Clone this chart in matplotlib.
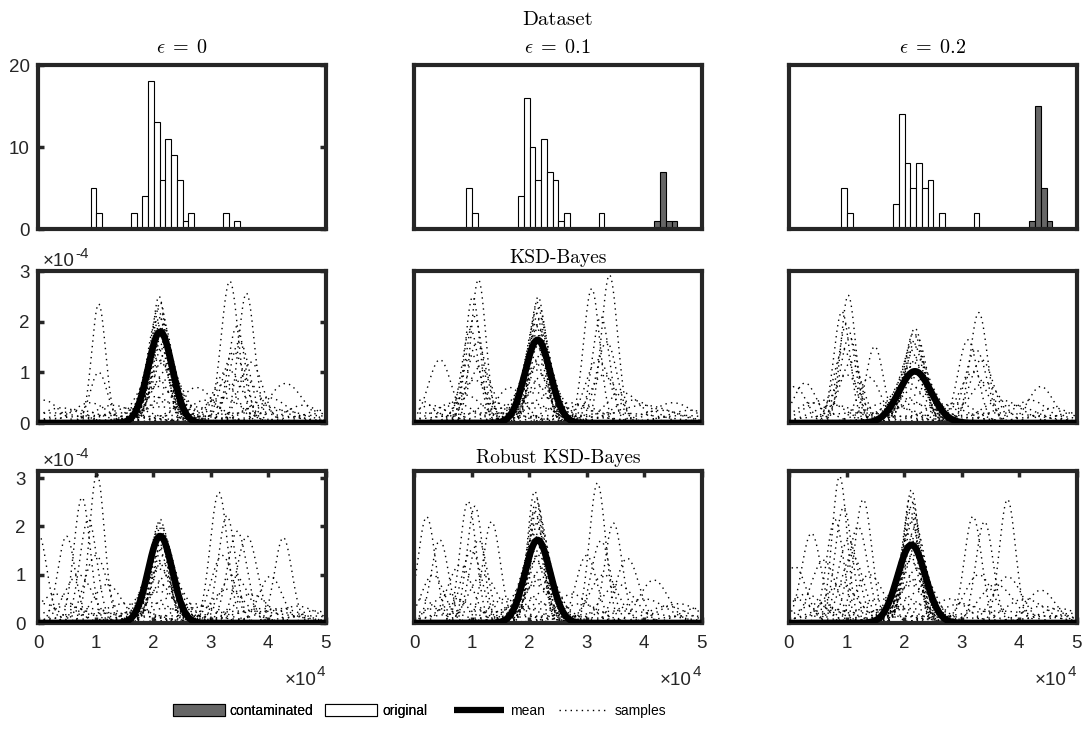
import numpy as np
import matplotlib
matplotlib.use("Agg")
import matplotlib.pyplot as plt
from matplotlib.patches import Patch
from matplotlib.lines import Line2D

plt.rcParams['font.family'] = ['Liberation Sans', 'DejaVu Sans']
plt.rcParams['mathtext.fontset'] = 'cm'

# ---- data (x in units of 1e4, densities in units of 1e-4) ----
eps_labels = [r'$\epsilon \;=\; 0$', r'$\epsilon \;=\; 0.1$', r'$\epsilon \;=\; 0.2$']
bin_width = 0.1

# histogram bins of the dataset: left edges and counts
orig_eps0_left = [0.91, 1.01, 1.61, 1.81, 1.91, 2.01, 2.11, 2.21, 2.31, 2.41, 2.51, 2.61, 3.21, 3.41]
orig_eps0_count = [5, 2, 2, 4, 18, 13, 6, 11, 9, 6, 1, 2, 2, 1]
orig_eps1_left = [0.91, 1.01, 1.81, 1.91, 2.01, 2.11, 2.21, 2.31, 2.41, 2.51, 2.61, 3.21]
orig_eps1_count = [5, 2, 4, 16, 10, 6, 11, 7, 6, 1, 2, 2]
orig_eps2_left = [0.91, 1.01, 1.81, 1.91, 2.01, 2.11, 2.21, 2.31, 2.41, 2.61, 3.21]
orig_eps2_count = [5, 2, 3, 14, 8, 5, 8, 5, 6, 2, 2]
cont_eps0_left = []
cont_eps0_count = []
cont_eps1_left = [4.18, 4.28, 4.38, 4.48]
cont_eps1_count = [1, 7, 1, 1]
cont_eps2_left = [4.18, 4.28, 4.38, 4.48]
cont_eps2_count = [1, 15, 5, 1]

# posterior density samples: (location, peak height, spread)
# "core" = samples around the main mode, "side" = other modes, "low" = flat ones
ksd_eps0_core = [
    (2.10, 2.50, 0.13), (2.12, 2.38, 0.14), (2.08, 2.25, 0.15), (2.15, 2.15, 0.15),
    (2.11, 2.08, 0.16), (2.05, 2.00, 0.17), (2.18, 1.95, 0.17), (2.13, 1.88, 0.18),
    (2.09, 1.80, 0.19), (2.16, 1.72, 0.20), (2.20, 1.62, 0.20), (2.04, 1.55, 0.21),
    (2.12, 1.48, 0.22), (2.22, 1.38, 0.22), (2.07, 1.28, 0.24), (2.15, 1.18, 0.25),
    (2.25, 1.05, 0.27), (2.00, 0.95, 0.28), (2.18, 0.85, 0.30), (2.10, 0.72, 0.30),
    (2.30, 0.62, 0.33), (2.02, 0.52, 0.35), (2.20, 0.42, 0.38), (2.12, 0.32, 0.42),
]
ksd_eps0_side = [
    (1.05, 2.35, 0.12), (1.05, 1.00, 0.15), (3.33, 2.80, 0.15), (3.62, 2.56, 0.14),
    (3.45, 1.90, 0.15), (3.70, 1.20, 0.20), (3.40, 1.40, 0.20), (3.30, 1.05, 0.25),
    (3.55, 0.90, 0.30), (4.30, 0.78, 0.30), (2.75, 0.70, 0.30), (3.50, 1.60, 0.18),
    (3.25, 0.80, 0.22),
]
ksd_eps0_low = [
    (0.10, 0.45, 0.25), (0.40, 0.30, 0.35), (0.70, 0.25, 0.40), (1.30, 0.35, 0.35),
    (1.60, 0.30, 0.40), (0.90, 0.40, 0.30), (2.60, 0.35, 0.35), (2.90, 0.45, 0.30),
    (3.20, 0.50, 0.35), (3.90, 0.35, 0.40), (4.20, 0.25, 0.45), (4.60, 0.35, 0.30),
    (4.90, 0.25, 0.30), (1.10, 0.15, 0.80), (3.60, 0.20, 0.80), (2.40, 0.15, 0.90),
    (0.25, 0.20, 0.50), (4.00, 0.50, 0.35), (1.45, 0.20, 0.50), (4.75, 0.15, 0.50),
]
ksd_eps1_core = [
    (2.16, 2.49, 0.13), (2.14, 2.38, 0.14), (2.18, 2.28, 0.15), (2.12, 2.18, 0.15),
    (2.20, 2.08, 0.16), (2.10, 1.98, 0.17), (2.15, 1.90, 0.18), (2.22, 1.80, 0.18),
    (2.08, 1.70, 0.19), (2.17, 1.60, 0.20), (2.13, 1.50, 0.21), (2.24, 1.40, 0.22),
    (2.06, 1.28, 0.23), (2.18, 1.18, 0.25), (2.11, 1.05, 0.26), (2.26, 0.95, 0.28),
    (2.03, 0.85, 0.30), (2.20, 0.72, 0.31), (2.12, 0.60, 0.33), (2.30, 0.50, 0.36),
    (2.00, 0.40, 0.40), (2.18, 0.30, 0.45),
]
ksd_eps1_side = [
    (1.12, 2.83, 0.13), (1.02, 2.49, 0.13), (1.05, 2.10, 0.15), (0.98, 1.85, 0.15),
    (1.10, 1.60, 0.17), (1.00, 1.35, 0.19), (1.15, 1.10, 0.22), (1.05, 0.85, 0.25),
    (0.45, 1.25, 0.20), (1.67, 0.70, 0.25), (3.09, 2.65, 0.14), (3.40, 2.92, 0.14),
    (3.25, 2.10, 0.15), (3.35, 1.60, 0.18), (3.20, 1.25, 0.22), (3.30, 0.95, 0.25),
    (3.63, 0.60, 0.30),
]
ksd_eps1_low = [
    (0.10, 0.45, 0.25), (0.30, 0.35, 0.30), (0.70, 0.40, 0.35), (0.90, 0.55, 0.30),
    (1.40, 0.40, 0.35), (1.60, 0.30, 0.40), (2.70, 0.40, 0.40), (2.90, 0.35, 0.35),
    (3.80, 0.45, 0.35), (4.00, 0.35, 0.50), (4.30, 0.25, 0.40), (4.50, 0.40, 0.35),
    (4.80, 0.25, 0.40), (1.20, 0.20, 0.80), (3.50, 0.20, 0.80), (2.50, 0.15, 0.90),
    (0.20, 0.20, 0.50), (4.70, 0.15, 0.50),
]
ksd_eps2_core = [
    (2.19, 1.87, 0.16), (2.17, 1.78, 0.17), (2.22, 1.70, 0.18), (2.15, 1.60, 0.19),
    (2.20, 1.50, 0.20), (2.12, 1.40, 0.21), (2.24, 1.30, 0.23), (2.16, 1.20, 0.24),
    (2.10, 1.10, 0.26), (2.27, 1.00, 0.28), (2.14, 0.90, 0.30), (2.05, 0.80, 0.31),
    (2.22, 0.70, 0.33), (2.30, 0.58, 0.35), (2.00, 0.48, 0.38), (2.18, 0.38, 0.42),
]
ksd_eps2_side = [
    (1.03, 2.52, 0.13), (0.92, 2.20, 0.14), (1.00, 1.95, 0.15), (1.05, 1.70, 0.16),
    (0.95, 1.45, 0.18), (1.08, 1.20, 0.20), (1.00, 0.95, 0.24), (1.49, 1.51, 0.15),
    (1.40, 0.90, 0.20), (0.28, 0.79, 0.20), (0.10, 0.72, 0.20), (3.30, 2.18, 0.15),
    (3.11, 1.64, 0.17), (3.25, 1.45, 0.19), (3.35, 1.25, 0.21), (3.20, 1.00, 0.24),
    (3.40, 0.80, 0.28), (4.38, 0.72, 0.22),
]
ksd_eps2_low = [
    (0.40, 0.40, 0.30), (0.60, 0.45, 0.35), (0.80, 0.35, 0.40), (1.70, 0.40, 0.40),
    (1.90, 0.30, 0.40), (2.70, 0.35, 0.40), (2.90, 0.40, 0.35), (3.70, 0.45, 0.35),
    (3.90, 0.35, 0.40), (4.20, 0.45, 0.30), (4.60, 0.30, 0.30), (4.90, 0.20, 0.30),
    (1.20, 0.20, 0.80), (3.60, 0.20, 0.80), (2.40, 0.15, 0.90), (4.50, 0.15, 0.50),
]
rob_eps0_core = [
    (2.12, 2.15, 0.14), (2.10, 2.08, 0.15), (2.15, 2.00, 0.16), (2.08, 1.92, 0.17),
    (2.18, 1.85, 0.17), (2.12, 1.78, 0.18), (2.20, 1.70, 0.19), (2.06, 1.62, 0.20),
    (2.14, 1.55, 0.21), (2.22, 1.45, 0.22), (2.04, 1.35, 0.23), (2.16, 1.25, 0.24),
    (2.10, 1.12, 0.26), (2.26, 1.00, 0.28), (2.02, 0.90, 0.30), (2.18, 0.78, 0.31),
    (2.12, 0.65, 0.33), (2.30, 0.52, 0.36), (2.00, 0.42, 0.40), (2.20, 0.30, 0.45),
]
rob_eps0_side = [
    (1.02, 3.10, 0.13), (0.76, 2.60, 0.14), (0.87, 2.15, 0.15), (0.49, 1.80, 0.15),
    (0.00, 1.85, 0.15), (1.00, 1.40, 0.20), (0.70, 1.00, 0.25), (1.20, 0.80, 0.25),
    (3.14, 2.71, 0.15), (3.28, 2.22, 0.15), (3.46, 1.90, 0.17), (3.63, 1.80, 0.18),
    (4.26, 1.77, 0.15), (4.04, 0.97, 0.20), (3.40, 1.00, 0.25), (3.30, 0.70, 0.30),
    (3.70, 0.60, 0.30), (3.20, 1.40, 0.20),
]
rob_eps0_low = [
    (0.10, 0.40, 0.25), (0.30, 0.60, 0.30), (0.50, 0.35, 0.40), (0.90, 0.30, 0.40),
    (1.50, 0.40, 0.40), (1.70, 0.25, 0.40), (2.70, 0.40, 0.35), (2.90, 0.35, 0.35),
    (3.90, 0.30, 0.50), (4.50, 0.35, 0.35), (4.80, 0.25, 0.35), (4.20, 0.30, 0.40),
    (1.20, 0.20, 0.80), (3.60, 0.25, 0.80), (2.40, 0.15, 0.90), (4.70, 0.15, 0.50),
]
rob_eps1_core = [
    (2.10, 2.73, 0.13), (2.13, 2.58, 0.13), (2.15, 2.45, 0.14), (2.10, 2.32, 0.15),
    (2.18, 2.20, 0.16), (2.12, 2.08, 0.17), (2.20, 1.96, 0.18), (2.08, 1.85, 0.18),
    (2.15, 1.74, 0.19), (2.22, 1.62, 0.20), (2.05, 1.50, 0.21), (2.17, 1.40, 0.22),
    (2.11, 1.28, 0.24), (2.25, 1.15, 0.26), (2.02, 1.02, 0.27), (2.19, 0.90, 0.29),
    (2.13, 0.78, 0.31), (2.28, 0.65, 0.33), (2.00, 0.52, 0.36), (2.20, 0.40, 0.40),
    (2.10, 0.30, 0.45),
]
rob_eps1_side = [
    (0.22, 2.20, 0.15), (0.45, 1.72, 0.15), (0.94, 2.52, 0.14), (1.06, 2.42, 0.14),
    (1.12, 1.72, 0.16), (1.35, 2.10, 0.15), (0.33, 1.00, 0.20), (0.80, 1.20, 0.22),
    (1.20, 1.00, 0.25), (1.00, 1.50, 0.18), (3.19, 2.90, 0.14), (3.47, 2.07, 0.15),
    (3.71, 1.34, 0.20), (4.17, 0.89, 0.25), (3.00, 1.40, 0.18), (3.30, 1.00, 0.25),
    (3.55, 0.80, 0.30), (3.25, 1.70, 0.17),
]
rob_eps1_low = [
    (0.10, 0.50, 0.30), (0.60, 0.60, 0.30), (0.80, 0.45, 0.35), (1.60, 0.50, 0.30),
    (1.80, 0.35, 0.40), (2.75, 0.60, 0.30), (2.90, 0.40, 0.35), (4.00, 0.50, 0.40),
    (4.40, 0.35, 0.35), (4.60, 0.40, 0.35), (4.90, 0.30, 0.30), (1.20, 0.25, 0.80),
    (3.60, 0.25, 0.80), (2.40, 0.15, 0.90), (0.40, 0.30, 0.40), (4.75, 0.15, 0.50),
]
rob_eps2_core = [
    (2.13, 2.76, 0.13), (2.11, 2.62, 0.13), (2.15, 2.48, 0.14), (2.10, 2.35, 0.15),
    (2.17, 2.22, 0.16), (2.12, 2.10, 0.17), (2.20, 1.98, 0.18), (2.08, 1.86, 0.18),
    (2.15, 1.75, 0.19), (2.22, 1.63, 0.20), (2.05, 1.52, 0.21), (2.17, 1.40, 0.22),
    (2.11, 1.28, 0.24), (2.25, 1.15, 0.26), (2.02, 1.02, 0.27), (2.19, 0.90, 0.29),
    (2.13, 0.78, 0.31), (2.28, 0.65, 0.33), (2.00, 0.52, 0.36), (2.20, 0.40, 0.40),
    (2.10, 0.30, 0.45),
]
rob_eps2_side = [
    (0.88, 3.04, 0.13), (1.29, 2.56, 0.15), (0.80, 2.14, 0.15), (0.39, 1.86, 0.17),
    (1.03, 1.72, 0.18), (0.10, 1.17, 0.20), (1.10, 1.40, 0.20), (0.60, 1.30, 0.22),
    (1.40, 1.00, 0.25), (0.90, 0.80, 0.30), (0.95, 2.40, 0.15), (1.20, 2.00, 0.17),
    (3.20, 2.21, 0.15), (3.40, 2.10, 0.15), (3.80, 2.56, 0.14), (3.80, 0.96, 0.25),
    (4.38, 0.68, 0.25), (3.30, 1.00, 0.25), (3.60, 0.80, 0.30),
]
rob_eps2_low = [
    (0.10, 0.50, 0.30), (0.30, 0.60, 0.30), (0.50, 0.40, 0.35), (1.60, 0.50, 0.35),
    (1.80, 0.35, 0.40), (2.80, 0.50, 0.30), (3.00, 0.40, 0.40), (4.10, 0.50, 0.35),
    (4.40, 0.35, 0.35), (4.70, 0.30, 0.35), (4.90, 0.20, 0.30), (1.20, 0.25, 0.80),
    (3.60, 0.25, 0.80), (2.40, 0.15, 0.90), (0.70, 0.30, 0.40), (4.60, 0.15, 0.50),
]

# posterior mean density: (location, peak height, spread)
ksd_means = [(2.12, 1.80, 0.21), (2.15, 1.64, 0.22), (2.19, 1.02, 0.28)]
rob_means = [(2.12, 1.80, 0.21), (2.15, 1.72, 0.22), (2.13, 1.62, 0.24)]

hist_orig = [(orig_eps0_left, orig_eps0_count), (orig_eps1_left, orig_eps1_count),
             (orig_eps2_left, orig_eps2_count)]
hist_cont = [(cont_eps0_left, cont_eps0_count), (cont_eps1_left, cont_eps1_count),
             (cont_eps2_left, cont_eps2_count)]
ksd_samples = [ksd_eps0_core + ksd_eps0_side + ksd_eps0_low,
               ksd_eps1_core + ksd_eps1_side + ksd_eps1_low,
               ksd_eps2_core + ksd_eps2_side + ksd_eps2_low]
rob_samples = [rob_eps0_core + rob_eps0_side + rob_eps0_low,
               rob_eps1_core + rob_eps1_side + rob_eps1_low,
               rob_eps2_core + rob_eps2_side + rob_eps2_low]

# ---- layout ----
W, H = 1085, 729
col_left = [38.3, 414, 789]
col_w = 287.5
rows = [(65, 229), (271, 423), (471, 623)]
spine_col = '#262626'
dot_style = (0, (1, 3))

xs = np.linspace(0, 5, 600)


def bump(c, h, w):
    return h * np.exp(-0.5 * ((xs - c) / w) ** 2)


def style_axes(ax):
    for s in ax.spines.values():
        s.set_linewidth(3)
        s.set_color(spine_col)
    ax.tick_params(direction='in', length=4, width=2.5, color=spine_col,
                   labelsize=13.5, labelcolor='#262626', pad=6)
    ax.set_xlim(0, 5)


fig = plt.figure(figsize=(W / 100, H / 100), dpi=100)
axes = [[None] * 3 for _ in range(3)]
for r, (top, bot) in enumerate(rows):
    for c in range(3):
        ax = fig.add_axes([col_left[c] / W, 1 - bot / H, col_w / W, (bot - top) / H])
        style_axes(ax)
        axes[r][c] = ax

# row 1: dataset histograms
for c in range(3):
    ax = axes[0][c]
    left, cnt = hist_orig[c]
    ax.bar(left, cnt, width=bin_width, align='edge', facecolor='white',
           edgecolor='black', linewidth=0.8)
    left, cnt = hist_cont[c]
    if left:
        ax.bar(left, cnt, width=bin_width, align='edge', facecolor='#666666',
               edgecolor='black', linewidth=0.8)
    ax.set_ylim(0, 20)
    ax.set_xticks([])
    ax.set_title(eps_labels[c], fontsize=14.5, pad=8.5)
    if c == 0:
        ax.set_yticks([0, 10, 20])
        ax.tick_params(left=True, right=True)
    else:
        ax.set_yticks([])
axes[0][1].text(0.5, 1.245, 'Dataset', transform=axes[0][1].transAxes,
                ha='center', va='baseline', fontsize=15, family='cmr10')

# rows 2 and 3: posterior densities
for r, (samples, means, ylim, title) in enumerate(
        [(ksd_samples, ksd_means, 3.0, 'KSD-Bayes'),
         (rob_samples, rob_means, 3.15, 'Robust KSD-Bayes')], start=1):
    for c in range(3):
        ax = axes[r][c]
        for (cc, hh, ww) in samples[c]:
            ax.plot(xs, bump(cc, hh, ww), color='black', lw=1.0,
                    linestyle=dot_style, zorder=2)
        mc, mh, mw = means[c]
        ax.plot(xs, bump(mc, mh, mw), color='black', lw=4.8, zorder=3,
                solid_capstyle='butt')
        ax.set_ylim(0, ylim)
        if c == 0:
            ax.set_yticks([0, 1, 2, 3])
            ax.tick_params(left=True, right=True)
            ax.text(0.016, 1.03, '×10', transform=ax.transAxes, ha='left',
                    va='baseline', fontsize=13.5, color='#262626')
            ax.text(0.13, 1.085, '-4', transform=ax.transAxes, ha='left',
                    va='baseline', fontsize=11, color='#262626')
        else:
            ax.set_yticks([])
        if c == 1:
            ax.set_title(title, fontsize=14, pad=5.5, family='cmr10')
        if r == 1:
            ax.set_xticks([])
        else:
            ax.set_xticks([0, 1, 2, 3, 4, 5])
            ax.tick_params(top=True, bottom=True, pad=9)
            ax.text(0.967, -0.408, '×10', transform=ax.transAxes, ha='right',
                    va='baseline', fontsize=13.5, color='#262626')
            ax.text(0.969, -0.35, '4', transform=ax.transAxes, ha='left',
                    va='baseline', fontsize=11, color='#262626')

# legends
leg1 = fig.legend(handles=[Patch(facecolor='#666666', edgecolor='black', lw=0.8),
                           Patch(facecolor='white', edgecolor='black', lw=0.8)],
                  labels=['contaminated', 'original'], ncol=2, frameon=False,
                  loc='center', bbox_to_anchor=(300 / W, 1 - 711 / H),
                  fontsize=10, handlelength=3.75, handleheight=0.95,
                  handletextpad=0.35, columnspacing=0.85)
fig.add_artist(leg1)
fig.legend(handles=[Line2D([], [], color='black', lw=4.5, solid_capstyle='butt'),
                    Line2D([], [], color='black', lw=1.0, linestyle=dot_style)],
           labels=['mean', 'samples'], ncol=2, frameon=False,
           loc='center', bbox_to_anchor=(560 / W, 1 - 711 / H),
           fontsize=10, handlelength=3.6, handletextpad=0.45, columnspacing=1.0)

fig.savefig('out.png', dpi=100)
